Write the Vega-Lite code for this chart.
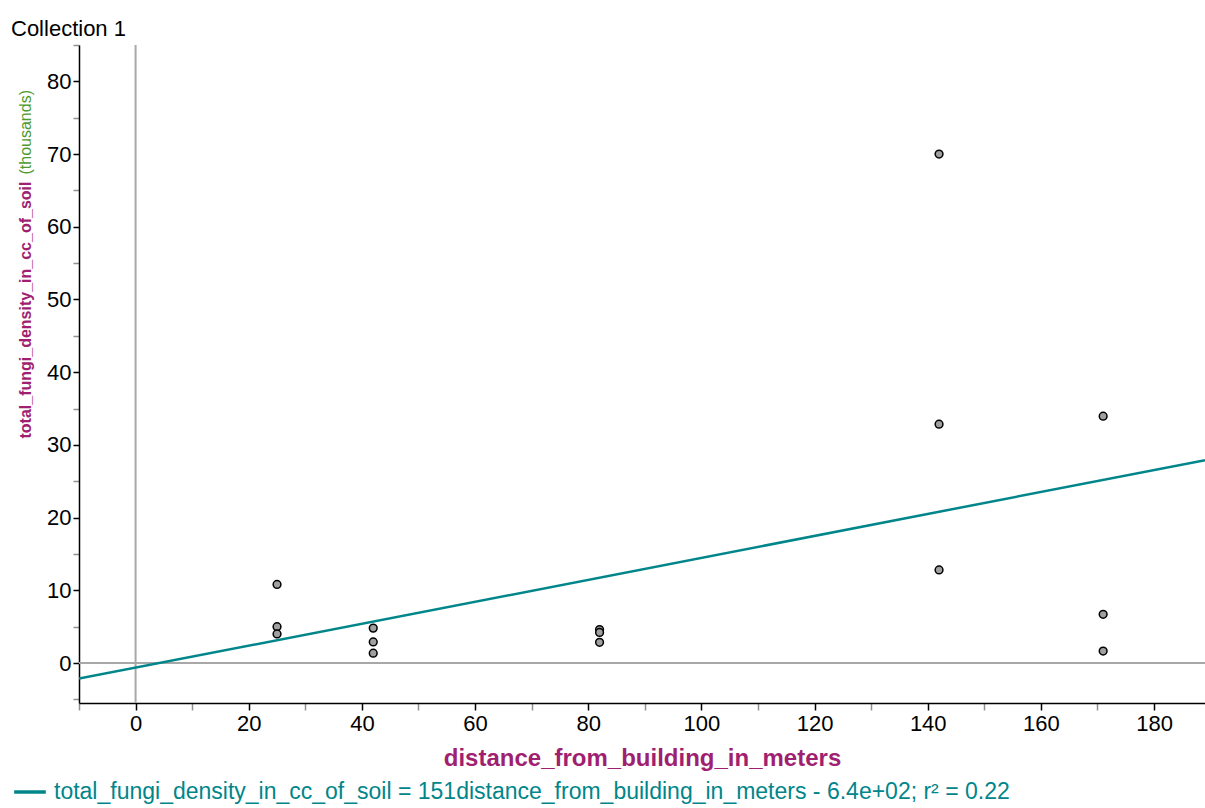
{
  "$schema": "https://vega.github.io/schema/vega-lite/v6.json",
  "autosize": {"type": "none"},
  "width": 1126,
  "height": 658,
  "padding": {"left": 79, "top": 45, "right": 0, "bottom": 105},
  "background": "white",
  "config": {
    "font": "Liberation Sans",
    "view": {"stroke": null}
  },
  "title": {
    "text": "Collection 1",
    "anchor": "start",
    "frame": "group",
    "dx": -68,
    "fontSize": 22,
    "fontWeight": "normal",
    "font": "Liberation Sans",
    "color": "black",
    "offset": 3
  },
  "resolve": {"axis": {"y": "independent"}},
  "layer": [
    {
      "data": {"values": [{"x": 0}]},
      "mark": {"type": "rule", "color": "#a8a8a8", "strokeWidth": 2},
      "encoding": {
        "x": {"field": "x", "type": "quantitative", "scale": {"domain": [-10, 189], "nice": false, "zero": false},
          "axis": {
            "values": [-10, -5, 0, 5, 10, 15, 20, 25, 30, 35, 40, 45, 50, 55, 60, 65, 70, 75, 80, 85, 90, 95, 100, 105, 110, 115, 120, 125, 130, 135, 140, 145, 150, 155, 160, 165, 170, 175, 180, 185],
            "labelExpr": "datum.value % 20 === 0 ? datum.label : ''",
            "grid": false,
            "domainColor": "black",
            "domainWidth": 1.5,
            "tickSize": 7,
            "tickWidth": 1.5,
            "tickColor": {"condition": {"test": "datum.value % 20 === 0", "value": "black"}, "value": "#909090"},
            "labelFontSize": 22,
            "labelColor": "black",
            "labelPadding": 3,
            "labelFlush": false,
            "title": "distance_from_building_in_meters",
            "titleFontSize": 24,
            "titleFontWeight": "bold",
            "titleColor": "#a01f70",
            "titlePadding": 12
          }
        }
      }
    },
    {
      "data": {"values": [{"y": 0}]},
      "mark": {"type": "rule", "color": "#a8a8a8", "strokeWidth": 2},
      "encoding": {
        "y": {"field": "y", "type": "quantitative", "scale": {"domain": [-5.5, 85], "nice": false, "zero": false},
          "axis": {
            "orient": "left",
            "labels": false,
            "ticks": false,
            "domain": false,
            "grid": false,
            "title": "(thousands)",
            "titleColor": "#4e9a2e",
            "titleFontSize": 16,
            "titleFontWeight": "normal",
            "titleAngle": 270,
            "titleAlign": "left",
            "titleBaseline": "middle",
            "titleX": -54,
            "titleY": 129
          }
        }
      }
    },
    {
      "data": {"values": [
        {"distance": -10, "fungi": -2.15},
        {"distance": 189, "fungi": 27.9}
      ]},
      "mark": {"type": "line", "strokeWidth": 2.5, "clip": true},
      "encoding": {
        "x": {"field": "distance", "type": "quantitative"},
        "y": {"field": "fungi", "type": "quantitative", "axis": null},
        "color": {
          "datum": "total_fungi_density_in_cc_of_soil = 151distance_from_building_in_meters - 6.4e+02; r² = 0.22",
          "type": "nominal",
          "scale": {"range": ["#00868a"]},
          "legend": {
            "orient": "none",
            "legendX": -67,
            "legendY": 729,
            "title": null,
            "symbolType": "stroke",
            "symbolStrokeWidth": 3.5,
            "symbolSize": 1000,
            "labelFontSize": 23,
            "labelColor": "#00868a",
            "labelLimit": 1200,
            "labelOffset": 6
          }
        }
      }
    },
    {
      "data": {"values": [
        {"distance": 25, "fungi": 10.8},
        {"distance": 25, "fungi": 5.0},
        {"distance": 25, "fungi": 4.0},
        {"distance": 42, "fungi": 4.8},
        {"distance": 42, "fungi": 2.9},
        {"distance": 42, "fungi": 1.35},
        {"distance": 82, "fungi": 4.6},
        {"distance": 82, "fungi": 4.2},
        {"distance": 82, "fungi": 2.85},
        {"distance": 142, "fungi": 70.0},
        {"distance": 142, "fungi": 32.85},
        {"distance": 142, "fungi": 12.8},
        {"distance": 171, "fungi": 33.95},
        {"distance": 171, "fungi": 6.7},
        {"distance": 171, "fungi": 1.65}
      ]},
      "mark": {"type": "point", "shape": "circle", "filled": true, "size": 60, "fill": "#a0a0a0", "stroke": "black", "strokeWidth": 1.5, "opacity": 1},
      "encoding": {
        "x": {"field": "distance", "type": "quantitative"},
        "y": {"field": "fungi", "type": "quantitative",
          "axis": {
            "orient": "left",
            "values": [-5, 0, 5, 10, 15, 20, 25, 30, 35, 40, 45, 50, 55, 60, 65, 70, 75, 80, 85],
            "labelExpr": "datum.value % 10 === 0 ? datum.label : ''",
            "grid": false,
            "domainColor": "black",
            "domainWidth": 1.5,
            "tickSize": 6,
            "tickWidth": 1.5,
            "tickColor": {"condition": {"test": "datum.value % 10 === 0", "value": "black"}, "value": "#909090"},
            "labelFontSize": 22,
            "labelColor": "black",
            "labelPadding": 2,
            "title": "total_fungi_density_in_cc_of_soil",
            "titleColor": "#a01f70",
            "titleFontSize": 16,
            "titleFontWeight": "bold",
            "titleAngle": 270,
            "titleAlign": "left",
            "titleBaseline": "middle",
            "titleX": -54,
            "titleY": 393
          }
        }
      }
    }
  ]
}
